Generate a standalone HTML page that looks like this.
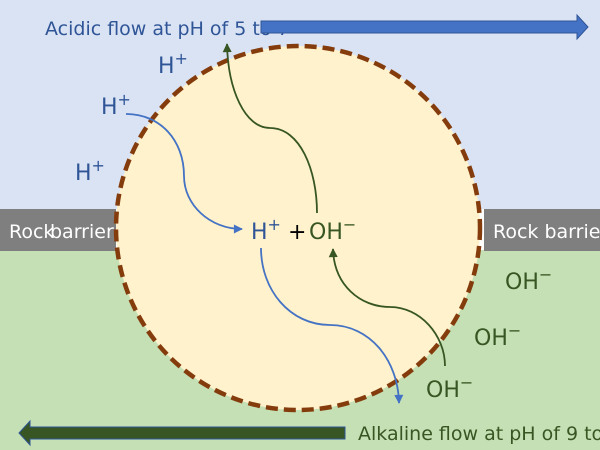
<!DOCTYPE html>
<html><head><style>body{margin:0}svg{display:block}</style></head><body>
<svg width="600" height="450" xmlns="http://www.w3.org/2000/svg" font-family="DejaVu Sans, sans-serif">
<defs>
<marker id="ab" viewBox="0 0 10 10" refX="9" refY="5" markerWidth="10" markerHeight="9" markerUnits="userSpaceOnUse" orient="auto"><path d="M0,0L10,5L0,10z" fill="#4472c4"/></marker>
<marker id="ag" viewBox="0 0 10 10" refX="9" refY="5" markerWidth="10" markerHeight="9" markerUnits="userSpaceOnUse" orient="auto"><path d="M0,0L10,5L0,10z" fill="#375623"/></marker>
</defs>
<rect width="600" height="209" fill="#dae3f4"/>
<rect y="250" width="600" height="200" fill="#c5e0b4"/>
<rect y="209" width="116" height="42" fill="#7f7f7f"/>
<rect x="484" y="209" width="116" height="42" fill="#7f7f7f"/>
<text x="9" y="238" font-size="19" fill="#fff">Rock</text>
<text x="50" y="238" font-size="19" fill="#fff">barrier</text>
<text x="493" y="238" font-size="19" fill="#fff">Rock barrier</text>
<text x="45" y="35" font-size="19" fill="#2f5597">Acidic flow at pH of 5 to 7</text>
<path d="M261,21H577V15L588,27L577,39V33H261Z" fill="#4472c4" stroke="#2f5597" stroke-width="1"/>
<circle cx="298" cy="228" r="182" fill="#fff2cc" stroke="#843c0c" stroke-width="4.5" stroke-dasharray="12,6"/>
<text x="358" y="440" font-size="19" fill="#375623">Alkaline flow at pH of 9 to 11</text>
<path d="M345,427H30V421L19,433L30,445V439H345Z" fill="#375623" stroke="#2f5597" stroke-width="1"/>
<g font-size="22" fill="#2f5597">
<text x="158" y="73">H<tspan font-size="16" dy="-9">+</tspan></text>
<text x="101" y="114">H<tspan font-size="16" dy="-9">+</tspan></text>
<text x="75" y="180">H<tspan font-size="16" dy="-9">+</tspan></text>
<text x="251" y="239">H<tspan font-size="16" dy="-9">+</tspan></text>
</g>
<text x="288" y="239" font-size="22" fill="#000">+</text>
<g font-size="22" fill="#375623">
<text x="309" y="239">OH<tspan font-size="16" dy="-9">−</tspan></text>
<text x="505" y="289">OH<tspan font-size="16" dy="-9">−</tspan></text>
<text x="474" y="345">OH<tspan font-size="16" dy="-9">−</tspan></text>
<text x="426" y="397">OH<tspan font-size="16" dy="-9">−</tspan></text>
</g>
<g fill="none" stroke-width="1.8">
<path d="M126,114C160,114 184,140 184,176C184,205 210,229 242,229" stroke="#4472c4" marker-end="url(#ab)"/>
<path d="M261,248C261,290 290,325 330,325C370,325 398,360 399,403" stroke="#4472c4" marker-end="url(#ab)"/>
<path d="M317,213C317,170 300,128 270,128C245,128 228,90 227,44" stroke="#375623" marker-end="url(#ag)"/>
<path d="M445,366C445,335 420,307 390,307C360,307 334,285 333,249" stroke="#375623" marker-end="url(#ag)"/>
</g>
</svg>
</body></html>
